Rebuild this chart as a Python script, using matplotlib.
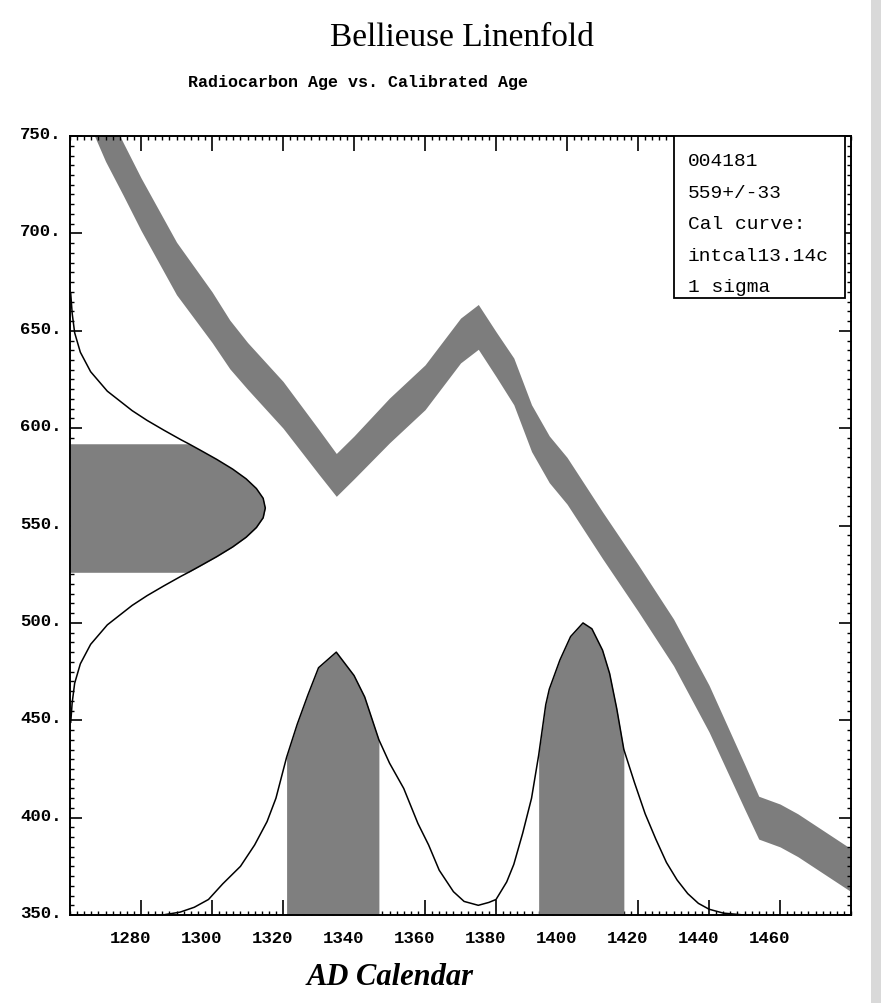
import matplotlib
matplotlib.use("Agg")
import matplotlib.pyplot as plt
import matplotlib.patches as patches
import matplotlib.transforms as mtransforms
import numpy as np

# calibration curve (intcal13), centre line and 1 sigma
curve_years = [1260, 1265, 1270, 1275, 1280, 1290, 1300, 1305, 1310, 1320, 1330, 1335,
               1340, 1350, 1360, 1370, 1375, 1380, 1385, 1390, 1395, 1400, 1410, 1420,
               1430, 1440, 1450, 1454, 1460, 1465, 1470, 1480]
curve_age = [795, 772, 751, 733, 715, 682, 657, 643, 632, 612, 588, 576,
             585, 604, 621, 645, 652, 638, 624, 600, 584, 573, 545, 518,
             490, 456, 416, 400, 396, 391, 385, 373]
curve_err = [14, 14, 14, 13.5, 13.5, 13.5, 13, 12.5, 12, 12, 11.5, 11,
             11, 11.5, 11.5, 11.5, 11.5, 11.5, 12, 12, 12, 12, 12, 12,
             12, 12, 11.5, 11, 11, 11, 11, 11]

# radiocarbon date distribution on the age axis (width in years from the left edge)
rc_age = [449, 459, 469, 479, 489, 499, 509, 514, 519, 524, 526, 529, 534, 539, 544,
          549, 554, 559, 564, 569, 574, 579, 584, 589, 592, 594, 599, 604, 609, 619,
          629, 639, 649, 659, 669]
rc_width = [0.2, 0.6, 1.3, 2.9, 5.8, 10.5, 17.5, 21.7, 26.4, 31.3, 33.4, 36.4, 41.3,
            45.8, 49.6, 52.5, 54.4, 55.0, 54.4, 52.5, 49.6, 45.8, 41.3, 36.4, 33.4,
            31.3, 26.4, 21.7, 17.5, 10.5, 5.8, 2.9, 1.3, 0.6, 0.2]
rc_lo, rc_hi = 526, 592

# calibrated distribution (height in age units above the baseline)
cal_years = [1286, 1291, 1295, 1299, 1303, 1308, 1312, 1315.5, 1318, 1321, 1324, 1327,
             1330, 1335, 1340, 1343, 1347, 1350, 1354, 1358, 1361, 1364, 1368, 1371,
             1375, 1378, 1380, 1383, 1385, 1387.5, 1390, 1392, 1394, 1395, 1398, 1401,
             1404.5, 1407, 1410, 1412, 1414, 1416, 1419, 1422, 1425, 1428, 1431, 1434,
             1437, 1440, 1444, 1450]
cal_age = [350, 351.5, 354, 358, 366, 375, 386, 398, 410, 431, 448, 463,
           477, 485, 473, 462, 440, 428, 415, 397, 386, 373, 362, 357,
           355, 356.5, 358, 367, 376, 392, 410, 432, 458, 466, 481, 493,
           500, 497, 486, 474, 456, 435, 418, 402, 389, 377, 368, 361,
           356, 353, 351, 350]
cal_ranges = [(1321, 1347), (1392, 1416)]

info_lines = ["004181", "559+/-33", "Cal curve:", "intcal13.14c", "1 sigma"]

x_ticks = [1280, 1300, 1320, 1340, 1360, 1380, 1400, 1420, 1440, 1460]
y_ticks = [350, 400, 450, 500, 550, 600, 650, 700, 750]

band_grey = "#7d7d7d"
fill_grey = "#7f7f7f"

fig = plt.figure(figsize=(8.81, 10.04), dpi=100)
fig.patch.set_facecolor("white")
ax = fig.add_axes([0.0795, 0.0876, 0.8865, 0.7759])

# calibration band
cy = np.array(curve_years, dtype=float)
ca = np.array(curve_age, dtype=float)
ce = np.array(curve_err, dtype=float)
ax.fill_between(cy, ca - ce, ca + ce, color=band_grey, lw=0, zorder=1)

# radiocarbon gaussian on the y axis
ra = np.array(rc_age, dtype=float)
rw = 1260 + np.array(rc_width)
ax.fill_betweenx(ra, 1260, rw, where=(ra >= rc_lo) & (ra <= rc_hi),
                 color=fill_grey, lw=0, zorder=2)
ax.plot(rw, ra, color="black", lw=1.1, zorder=3)

# calibrated probability
cx = np.array(cal_years, dtype=float)
cv = np.array(cal_age, dtype=float)
for lo, hi in cal_ranges:
    m = (cx >= lo) & (cx <= hi)
    ax.fill_between(cx, 350, cv, where=m, color=fill_grey, lw=0, zorder=2)
ax.plot(cx, cv, color="black", lw=1.1, zorder=3)

ax.set_xlim(1260, 1480)
ax.set_ylim(350, 750)

mono = "Liberation Mono"
ax.set_xticks(x_ticks)
ax.set_xticklabels([str(v) for v in x_ticks], family=mono, fontweight="bold", fontsize=12.5)
ax.set_xticks(np.arange(1260, 1481, 2), minor=True)
ax.set_yticks(y_ticks)
ax.set_yticklabels([f"{v}." for v in y_ticks], family=mono, fontweight="bold", fontsize=12.5)
ax.set_yticks(np.arange(350, 751, 5), minor=True)
ax.tick_params(axis="x", which="major", direction="in", length=11, width=1.2,
               top=True, pad=11)
ax.tick_params(axis="y", which="major", direction="in", length=8.5, width=1.2,
               right=True, pad=6)
ax.tick_params(which="minor", direction="in", length=3, width=1.0, top=True, right=True)
for s in ax.spines.values():
    s.set_linewidth(1.4)

# shift tick labels like the original print
shift_x = mtransforms.ScaledTranslation(-10 / 100, 0, fig.dpi_scale_trans)
for lab in ax.get_xticklabels():
    lab.set_transform(lab.get_transform() + shift_x)
shift_y = mtransforms.ScaledTranslation(0, 4 / 100, fig.dpi_scale_trans)
for lab in ax.get_yticklabels():
    lab.set_transform(lab.get_transform() + shift_y)

# info box
box = patches.Rectangle((0.773, 0.792), 0.219, 0.208, transform=ax.transAxes,
                        facecolor="white", edgecolor="black", lw=1.3, zorder=4)
ax.add_patch(box)
for i, line in enumerate(info_lines):
    ax.text(0.791, 0.968 - i * 0.0403, line, transform=ax.transAxes, family=mono,
            fontsize=14, va="center", ha="left", zorder=5)

fig.text(0.524, 0.962, "Bellieuse Linenfold", family="Liberation Serif",
         fontsize=24, ha="center", va="center")
fig.text(0.2135, 0.918, "Radiocarbon Age vs. Calibrated Age", family=mono,
         fontweight="bold", fontsize=12, ha="left", va="center")
fig.text(0.443, 0.026, "AD Calendar", family="Liberation Serif", fontweight="bold",
         style="italic", fontsize=22, ha="center", va="center")

# scan shadow on the right edge
fig.patches.append(patches.Rectangle((0.989, 0), 0.011, 1, transform=fig.transFigure,
                                     facecolor="#d9d9d9", edgecolor="none"))

fig.savefig("out.png", dpi=100)
